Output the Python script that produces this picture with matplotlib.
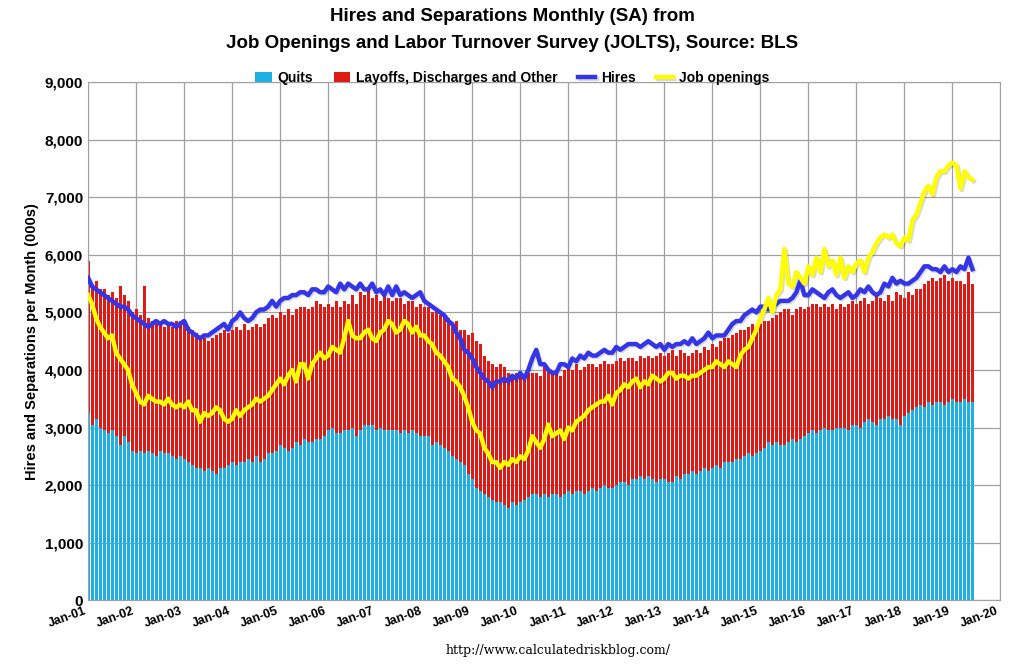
import matplotlib.pyplot as plt
import matplotlib.patheffects as pe
from matplotlib.ticker import FuncFormatter
import numpy as np

plt.rcParams['font.family'] = ['Liberation Sans', 'DejaVu Sans']

# monthly values, thousands, Jan 2001 - Jun 2019
quits = [
    3250, 3050, 3150, 3000, 2950, 2900, 2950, 2850, 2700, 2850, 2750, 2600,
    2550, 2600, 2550, 2600, 2550, 2500, 2600, 2550, 2550, 2500, 2450, 2500,
    2450, 2400, 2350, 2300, 2300, 2250, 2300, 2250, 2200, 2300, 2300, 2350,
    2400, 2350, 2400, 2400, 2450, 2400, 2500, 2400, 2450, 2550, 2550, 2600,
    2700, 2650, 2600, 2650, 2750, 2700, 2800, 2750, 2750, 2800, 2800, 2850,
    2950, 3000, 2900, 2900, 2950, 2950, 3000, 2850, 2950, 3050, 3050, 3050,
    2950, 3000, 2950, 2950, 2950, 2950, 2900, 2950, 2900, 2950, 2900, 2850,
    2850, 2850, 2700, 2750, 2700, 2650, 2600, 2500, 2450, 2400, 2350, 2200,
    2100, 1950, 1900, 1850, 1800, 1750, 1700, 1700, 1650, 1600, 1700, 1650,
    1700, 1750, 1800, 1850, 1850, 1800, 1850, 1800, 1850, 1850, 1800, 1850,
    1900, 1850, 1900, 1900, 1850, 1900, 1950, 1900, 1950, 2000, 1950, 1950,
    2000, 2050, 2050, 2000, 2100, 2100, 2150, 2100, 2150, 2100, 2050, 2100,
    2100, 2050, 2050, 2150, 2100, 2200, 2200, 2250, 2200, 2250, 2300, 2250,
    2300, 2350, 2300, 2400, 2400, 2400, 2450, 2450, 2500, 2550, 2500, 2550,
    2600, 2650, 2750, 2700, 2750, 2700, 2700, 2750, 2800, 2750, 2800, 2850,
    2900, 2950, 2900, 2950, 3000, 2950, 2950, 3000, 3000, 3000, 2950, 3050,
    3050, 3000, 3100, 3150, 3100, 3050, 3150, 3150, 3200, 3150, 3150, 3050,
    3200, 3250, 3300, 3350, 3400, 3350, 3450, 3400, 3450, 3450, 3400, 3450,
    3500, 3450, 3450, 3500, 3450, 3450,
]
total_separations = [
    5900, 5450, 5550, 5400, 5400, 5300, 5350, 5250, 5450, 5300, 5200, 5000,
    5050, 4950, 5450, 4900, 4850, 4800, 4850, 4750, 4800, 4750, 4850, 4850,
    4800, 4750, 4700, 4650, 4550, 4550, 4500, 4550, 4600, 4650, 4700, 4650,
    4700, 4750, 4700, 4800, 4700, 4750, 4800, 4750, 4800, 4900, 4950, 4900,
    5000, 4950, 5050, 4950, 5050, 5100, 5100, 5050, 5100, 5200, 5150, 5100,
    5150, 5100, 5200, 5100, 5200, 5150, 5300, 5150, 5350, 5300, 5400, 5250,
    5300, 5200, 5350, 5250, 5200, 5250, 5250, 5150, 5200, 5200, 5100, 5150,
    5100, 5100, 5000, 5050, 4950, 4950, 4900, 4800, 4850, 4700, 4700, 4600,
    4650, 4500, 4450, 4250, 4150, 4100, 4050, 4100, 4050, 3950, 3900, 3950,
    3950, 3900, 3950, 3950, 3950, 3900, 4050, 4000, 3950, 3950, 3900, 4000,
    4050, 4000, 4100, 4000, 4050, 4100, 4100, 4050, 4100, 4150, 4100, 4100,
    4150, 4200, 4150, 4200, 4200, 4150, 4250, 4200, 4250, 4200, 4250, 4300,
    4250, 4300, 4350, 4250, 4350, 4300, 4250, 4300, 4350, 4300, 4400, 4350,
    4450, 4400, 4500, 4550, 4550, 4600, 4650, 4700, 4700, 4750, 4800, 4750,
    4800, 4850, 4850, 4900, 4950, 5000, 5050, 5050, 4950, 5050, 5100, 5050,
    5100, 5150, 5150, 5100, 5150, 5100, 5150, 5050, 5150, 5100, 5150, 5200,
    5150, 5200, 5250, 5150, 5200, 5300, 5250, 5200, 5300, 5200, 5350, 5300,
    5250, 5350, 5300, 5400, 5400, 5500, 5550, 5600, 5550, 5600, 5650, 5550,
    5600, 5550, 5550, 5500, 5700, 5500,
]
hires = [
    5600, 5450, 5400, 5350, 5300, 5250, 5200, 5150, 5100, 5100, 5050, 4950,
    4900, 4850, 4800, 4750, 4800, 4850, 4800, 4850, 4800, 4800, 4750, 4800,
    4850, 4700, 4650, 4600, 4550, 4600, 4600, 4650, 4700, 4750, 4800, 4700,
    4850, 4900, 5000, 4900, 4850, 4900, 5000, 5050, 5050, 5100, 5200, 5100,
    5200, 5250, 5250, 5300, 5300, 5350, 5350, 5300, 5400, 5400, 5350, 5350,
    5450, 5400, 5350, 5500, 5400, 5500, 5450, 5400, 5500, 5400, 5400, 5500,
    5350, 5400, 5300, 5450, 5300, 5450, 5300, 5350, 5300, 5250, 5300, 5350,
    5200, 5150, 5100, 5050, 5000, 4950, 4850, 4800, 4650, 4550, 4350, 4300,
    4200, 4050, 3950, 3850, 3800, 3700, 3800, 3800, 3850, 3800, 3900, 3850,
    3950, 3850, 4000, 4200, 4350, 4100, 4100, 4000, 3950, 3950, 4100, 4100,
    4050, 4200, 4150, 4250, 4200, 4300, 4250, 4250, 4300, 4350, 4300, 4300,
    4400, 4350, 4400, 4450, 4450, 4450, 4400, 4450, 4500, 4450, 4400, 4450,
    4350, 4450, 4400, 4450, 4450, 4500, 4450, 4550, 4450, 4500, 4550, 4650,
    4550, 4600, 4600, 4600, 4700, 4800, 4850, 4850, 4950, 5000, 5050, 5000,
    5100, 5100, 5050, 5100, 5150, 5200, 5200, 5200, 5250, 5350, 5550, 5300,
    5300, 5400, 5350, 5300, 5250, 5350, 5400, 5300, 5250, 5300, 5350, 5250,
    5300, 5400, 5350, 5450, 5350, 5300, 5350, 5500, 5450, 5600, 5500, 5550,
    5500, 5500, 5550, 5600, 5700, 5800, 5800, 5750, 5750, 5700, 5800, 5700,
    5750, 5700, 5800, 5750, 5950, 5750,
]
job_openings = [
    5300, 5150, 4900, 4750, 4650, 4550, 4600, 4300, 4200, 4100, 4000, 3750,
    3600, 3450, 3400, 3550, 3500, 3450, 3450, 3400, 3500, 3400, 3350, 3400,
    3350, 3450, 3300, 3300, 3100, 3250, 3200, 3250, 3350, 3300, 3150, 3100,
    3150, 3300, 3200, 3300, 3350, 3400, 3500, 3450, 3500, 3550, 3650, 3750,
    3850, 3750, 3900, 4000, 3800, 4100, 4100, 3850, 4100, 4200, 4300, 4200,
    4250, 4400, 4350, 4300, 4550, 4850, 4600, 4550, 4550, 4650, 4700, 4550,
    4500, 4650, 4700, 4850, 4800, 4650, 4700, 4850, 4800, 4650, 4750, 4600,
    4600, 4500, 4450, 4300, 4250, 4150, 4050, 3850, 3800, 3700, 3550, 3350,
    3100, 2950, 2900, 2650, 2550, 2400, 2400, 2300, 2400, 2350, 2450, 2400,
    2500, 2450, 2600, 2850, 2750, 2650, 2800, 3050, 2850, 2900, 2950, 2800,
    3000, 2950, 3100, 3150, 3200, 3300, 3350, 3400, 3450, 3450, 3550, 3400,
    3600, 3650, 3750, 3700, 3800, 3850, 3700, 3800, 3750, 3900, 3850, 3800,
    3850, 3950, 3950, 3850, 3900, 3900, 3850, 3900, 3900, 3950, 4000, 4050,
    4050, 4150, 4100, 4050, 4150, 4100, 4050, 4250, 4350, 4400, 4550, 4700,
    4900, 5050, 5250, 5000, 5300, 5400, 6100, 5500, 5450, 5700, 5600, 5500,
    5800, 5650, 5950, 5700, 6100, 5800, 5900, 5650, 5950, 5600, 5800, 5700,
    5850, 5900, 5700, 5950, 6050, 6200, 6300, 6350, 6300, 6350, 6200, 6150,
    6300, 6250, 6600, 6700, 6900, 7100, 7200, 7050, 7350, 7450, 7450, 7550,
    7600, 7550, 7150, 7450, 7350, 7300,
]
year_labels = ["Jan-%02d" % (y % 100) for y in range(2001, 2021)]

x = np.arange(len(quits))
quits = np.array(quits)
layoffs = np.array(total_separations) - quits

fig = plt.figure(figsize=(10.24, 6.67), dpi=100)
ax = fig.add_axes([0.086, 0.1, 0.891, 0.777])

b1 = ax.bar(x, quits, width=0.75, color='#1eb0e2', label='Quits', zorder=2)
b2 = ax.bar(x, layoffs, bottom=quits, width=0.75, color='#e01b17',
            label='Layoffs, Discharges and Other', zorder=2)
shadow = [pe.SimpleLineShadow(offset=(1, -1), alpha=0.15), pe.Normal()]
l1, = ax.plot(x, hires, color='#3535e8', lw=3.2, label='Hires', zorder=3,
              path_effects=shadow)
l2, = ax.plot(x, job_openings, color='#ffff00', lw=3.2, label='Job openings',
              zorder=4, path_effects=shadow)

ax.set_xlim(0, 228)
ax.set_ylim(0, 9000)
ax.set_yticks(range(0, 9001, 1000))
ax.yaxis.set_major_formatter(FuncFormatter(lambda v, p: f"{int(v):,}"))
ax.set_xticks(range(0, 229, 12))
ax.set_xticklabels(year_labels, rotation=20, ha='right', fontsize=9,
                   fontweight='bold')
for lab in ax.get_yticklabels():
    lab.set_fontweight('bold')
    lab.set_fontsize(11)
ax.grid(True, color='#a0a0a0', lw=0.9, zorder=0)
ax.set_axisbelow(True)
for s in ax.spines.values():
    s.set_color('#a0a0a0')
ax.tick_params(length=0)
ax.set_ylabel('Hires and Separations per Month (000s)', fontsize=10.5,
              fontweight='bold')

fig.text(0.5, 0.975, 'Hires and Separations Monthly (SA) from', ha='center',
         va='center', fontsize=13.5, fontweight='bold')
fig.text(0.5, 0.935,
         'Job Openings and Labor Turnover Survey (JOLTS), Source: BLS',
         ha='center', va='center', fontsize=13.5, fontweight='bold')
fig.legend(handles=[b1, b2, l1, l2], loc='center',
           bbox_to_anchor=(0.5, 0.883), ncol=4, frameon=False,
           prop={'weight': 'bold', 'size': 10}, handlelength=1.2,
           columnspacing=1.5, handletextpad=0.4)
fig.text(0.545, 0.02, 'http://www.calculatedriskblog.com/', ha='center',
         fontsize=9, family='DejaVu Serif')

fig.savefig('out.png', dpi=100)
